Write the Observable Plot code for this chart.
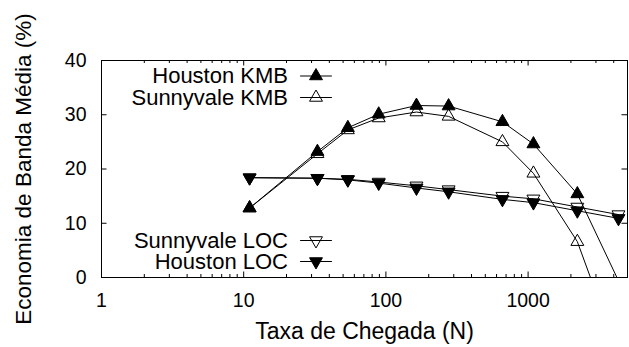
<!DOCTYPE html>
<html><head><meta charset="utf-8">
<script src="https://cdn.jsdelivr.net/npm/d3@7"></script>
<script src="https://cdn.jsdelivr.net/npm/@observablehq/plot@0.6"></script>
<style>body{margin:0;background:#fff} svg{display:block}</style>
</head><body><div id="chart"></div>
<script>
// ---- data ----
const rates = [11, 33, 54, 89, 164, 276, 660, 1090, 2220, 4320];
const houstonKMB   = [12.8, 23.2, 27.6, 30.1, 31.7, 31.6, 28.7, 24.6, 15.4, -0.6];
const sunnyvaleKMB = [12.8, 22.8, 27.2, 29.4, 30.5, 29.7, 25.0, 19.2, 6.6, -14.1];
const sunnyvaleLOC = [18.4, 18.3, 18.1, 17.6, 16.9, 16.2, 15.0, 14.5, 13.0, 11.6];
const houstonLOC   = [18.4, 18.3, 18.0, 17.4, 16.5, 15.8, 14.4, 13.8, 12.3, 10.9];
const seriesNames = ["Houston KMB", "Sunnyvale KMB", "Sunnyvale LOC", "Houston LOC"];
const xTickValues = [1, 10, 100, 1000];
const yTickValues = [0, 10, 20, 30, 40];
const xTitle = "Taxa de Chegada (N)";
const yTitle = "Economia de Banda Média (%)";

// ---- layout ----
const W = 629, H = 347, mL = 101, mR = 2, mT = 60, mB = 70;
const plotW = W - mL - mR, plotH = H - mT - mB;
const xDomain = [1, 5000], yDomain = [0, 40];
const xInv = px => Math.pow(10, Math.log10(xDomain[1]) * (px - mL) / plotW);
const yInv = py => yDomain[1] * (mT + plotH - py) / plotH;

const seriesValues = [houstonKMB, sunnyvaleKMB, sunnyvaleLOC, houstonLOC];
const styles = {
  "Houston KMB":   {fill: "black", rotate: 0},
  "Sunnyvale KMB": {fill: "none",  rotate: 0},
  "Sunnyvale LOC": {fill: "none",  rotate: 180},
  "Houston LOC":   {fill: "black", rotate: 180}
};
const table = seriesNames.flatMap((name, i) =>
  rates.map((r, j) => ({series: name, x: r, y: seriesValues[i][j]})));

const legendRowsPx = {"Houston KMB": 75.5, "Sunnyvale KMB": 97, "Sunnyvale LOC": 240, "Houston LOC": 261};
const legend = seriesNames.map(name => ({name, y: yInv(legendRowsPx[name])}));

const minorX = [];
for (let dec = 1; dec <= 1000; dec *= 10)
  for (let k = 2; k <= 9; k++) if (k * dec <= xDomain[1]) minorX.push(k * dec);

const R = 4.8;
const marks = [];
// ticks (inward, mirrored)
marks.push(Plot.ruleX(xTickValues, {x: d => d, insetTop: plotH - 5.5, stroke: "black"}));
marks.push(Plot.ruleX(xTickValues, {x: d => d, insetBottom: plotH - 5.5, stroke: "black"}));
marks.push(Plot.ruleX(minorX, {x: d => d, insetTop: plotH - 3, stroke: "black"}));
marks.push(Plot.ruleX(minorX, {x: d => d, insetBottom: plotH - 3, stroke: "black"}));
marks.push(Plot.ruleY(yTickValues, {y: d => d, insetRight: plotW - 5.5, stroke: "black"}));
marks.push(Plot.ruleY(yTickValues, {y: d => d, insetLeft: plotW - 5.5, stroke: "black"}));

for (const name of seriesNames) {
  const data = table.filter(d => d.series === name);
  marks.push(Plot.line(data, {x: "x", y: "y", stroke: "black", strokeWidth: 1, clip: true}));
}
for (const name of seriesNames) {
  const st = styles[name];
  const data = table.filter(d => d.series === name && d.y >= yDomain[0]);
  marks.push(Plot.dot(data, {x: "x", y: "y", symbol: "triangle", r: R, rotate: st.rotate,
    fill: st.fill, stroke: "black", strokeWidth: 1}));
}
// legend
for (const row of legend) {
  const st = styles[row.name];
  marks.push(Plot.text([row], {x: () => xInv(287.5), y: "y", text: "name", textAnchor: "end",
    lineAnchor: "middle", fontSize: 22, fill: "black"}));
  marks.push(Plot.line([{x: xInv(300), y: row.y}, {x: xInv(331), y: row.y}],
    {x: "x", y: "y", stroke: "black", strokeWidth: 1}));
  marks.push(Plot.dot([row], {x: () => xInv(315.5), y: "y", symbol: "triangle", r: R,
    rotate: st.rotate, fill: st.fill, stroke: "black", strokeWidth: 1}));
}
marks.push(Plot.frame({stroke: "black", strokeWidth: 1}));
marks.push(Plot.axisX(xTickValues, {tickSize: 0, tickPadding: 16, fontSize: 19.5,
  tickFormat: d => String(d), label: null}));
marks.push(Plot.axisY(yTickValues, {tickSize: 0, tickPadding: 15, fontSize: 19.5,
  tickFormat: d => String(d), label: null}));
marks.push(Plot.text([xTitle], {frameAnchor: "bottom", dy: 61, lineAnchor: "bottom",
  textAnchor: "middle", text: d => d, fontSize: 23, fill: "black"}));
marks.push(Plot.text([yTitle], {frameAnchor: "left", dx: -71, rotate: -90, lineAnchor: "bottom",
  textAnchor: "middle", text: d => d, fontSize: 22.5, fill: "black"}));

const chart = Plot.plot({
  width: W, height: H,
  marginLeft: mL, marginRight: mR, marginTop: mT, marginBottom: mB,
  style: {fontFamily: "'Liberation Sans', Arial, Helvetica, sans-serif", color: "black", background: "white"},
  x: {type: "log", domain: xDomain},
  y: {domain: yDomain},
  marks
});
document.getElementById("chart").appendChild(chart);
</script>
</body></html>
